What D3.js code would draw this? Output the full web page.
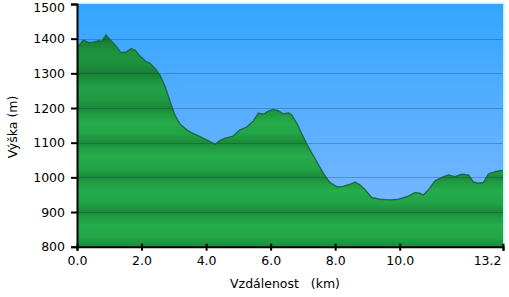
<!DOCTYPE html>
<html><head><meta charset="utf-8">
<script src="https://cdn.jsdelivr.net/npm/d3@7"></script>
<style>
html,body{margin:0;padding:0;background:#fff;}
svg{display:block;}
text{font-family:Verdana,"DejaVu Sans",sans-serif;fill:#000;}
</style></head><body>
<svg id="c" width="509" height="297"></svg>
<script>
const distanceKm = [0.0,0.1,0.2,0.35,0.5,0.66,0.77,0.9,1.02,1.18,1.35,1.49,1.69,1.8,1.95,2.11,2.26,2.42,2.57,2.73,2.88,3.04,3.19,3.4,3.55,3.71,3.91,4.12,4.28,4.43,4.59,4.84,5.05,5.26,5.46,5.62,5.77,5.93,6.08,6.24,6.39,6.55,6.65,6.81,7.01,7.22,7.43,7.63,7.84,8.05,8.25,8.46,8.61,8.77,8.93,9.13,9.39,9.7,9.96,10.22,10.47,10.63,10.73,10.89,11.09,11.3,11.51,11.71,11.92,12.13,12.28,12.44,12.59,12.75,12.95,13.11,13.2];
const elevationM = [1375,1385,1396,1389,1390,1394,1393,1411,1398,1382,1361,1360,1371,1367,1350,1336,1329,1314,1295,1262,1220,1178,1154,1137,1129,1122,1113,1103,1096,1106,1113,1119,1137,1145,1162,1185,1182,1191,1196,1192,1183,1186,1180,1156,1117,1079,1045,1012,985,973,974,980,986,978,964,942,937,935,937,944,956,954,949,964,990,1000,1007,1002,1009,1007,987,983,985,1010,1016,1019,1020];
const xTicks = [0, 2, 4, 6, 8, 10, 13.2];
const yTicks = [800, 900, 1000, 1100, 1200, 1300, 1400, 1500];
const xTitle = "Vzdálenost   (km)";
const yTitle = "Výška (m)";

const data = distanceKm.map((d,i)=>({d, e: elevationM[i]}));
const svg = d3.select("#c");
const L = 77, R = 503, T = 4, B = 246.7;
const x = d3.scaleLinear().domain([0, 13.2]).range([L, R]);
const y = d3.scaleLinear().domain([800, 1500]).range([B, T]);

const defs = svg.append("defs");
const sky = defs.append("linearGradient").attr("id","sky").attr("x1",0).attr("y1",0).attr("x2",0).attr("y2",1);
sky.append("stop").attr("offset",0).attr("stop-color","#33a5ff");
sky.append("stop").attr("offset",1).attr("stop-color","#84baff");

const band = defs.append("linearGradient").attr("id","band")
  .attr("gradientUnits","userSpaceOnUse").attr("spreadMethod","repeat")
  .attr("x1",0).attr("x2",0).attr("y1",y(1000)).attr("y2",y(900));
band.append("stop").attr("offset",0).attr("stop-color","#1b8a38");
band.append("stop").attr("offset",0.12).attr("stop-color","#1f9a40");
band.append("stop").attr("offset",0.4).attr("stop-color","#25ad4b");
band.append("stop").attr("offset",0.75).attr("stop-color","#22a347");
band.append("stop").attr("offset",1).attr("stop-color","#1b8c39");

const shade = defs.append("linearGradient").attr("id","shade")
  .attr("gradientUnits","userSpaceOnUse").attr("x1",0).attr("x2",0).attr("y1",y(1420)).attr("y2",y(1150));
shade.append("stop").attr("offset",0).attr("stop-color","#0a3a18").attr("stop-opacity",0.28);
shade.append("stop").attr("offset",1).attr("stop-color","#0a3a18").attr("stop-opacity",0);

svg.append("rect").attr("x",L).attr("y",T-1.5).attr("width",R-L+1.5).attr("height",B-T+1.5)
  .attr("fill","#b8f4ff");
svg.append("rect").attr("x",L).attr("y",T).attr("width",R-L).attr("height",B-T).attr("fill","url(#sky)");

const area = d3.area().x(d=>x(d.d)).y0(B).y1(d=>y(d.e));
svg.append("path").datum(data).attr("d",area).attr("fill","url(#band)");
svg.append("path").datum(data).attr("d",area).attr("fill","url(#shade)");

svg.append("g").selectAll("line").data(yTicks.filter(v=>v>800 && v<1500)).join("line")
  .attr("x1",L).attr("x2",R).attr("y1",d=>Math.round(y(d))+0.5).attr("y2",d=>Math.round(y(d))+0.5)
  .attr("stroke","#0a2e55").attr("stroke-opacity",0.28).attr("stroke-width",1);

const line = d3.line().x(d=>x(d.d)).y(d=>y(d.e));
svg.append("path").datum(data).attr("d",line).attr("fill","none")
  .attr("stroke","#1a6440").attr("stroke-width",1.4).attr("stroke-linejoin","round").attr("stroke-opacity",0.9);

const yAxis = d3.axisLeft(y).tickValues(yTicks).tickFormat(d3.format("d")).tickSize(6).tickPadding(6);
const gy = svg.append("g").attr("transform",`translate(${L},0)`).call(yAxis);
const xAxis = d3.axisBottom(x).tickValues(xTicks).tickFormat(d3.format(".1f")).tickSize(4).tickPadding(5);
const gx = svg.append("g").attr("transform",`translate(0,${B})`).call(xAxis);
[gy,gx].forEach(g=>{
  g.select(".domain").attr("stroke","#000").attr("stroke-width",2);
  g.selectAll(".tick line").attr("stroke","#000").attr("stroke-width",2);
  g.selectAll("text").attr("font-size",12.5).attr("font-family",'Verdana,"DejaVu Sans",sans-serif').attr("fill","#000");
});
gx.selectAll(".tick line").attr("y1",-3);
gy.selectAll(".tick").filter(d=>d===1500).select("text").attr("y",3);
gx.selectAll(".tick").filter(d=>d===13.2).select("text").attr("text-anchor","end").attr("x",-2);

svg.append("text").attr("x",285).attr("y",288).attr("text-anchor","middle")
  .attr("font-size",12.5).style("white-space","pre").text(xTitle);
svg.append("text").attr("transform","translate(17,127) rotate(-90)").attr("text-anchor","middle")
  .attr("font-size",12.5).text(yTitle);
</script>
</body></html>
